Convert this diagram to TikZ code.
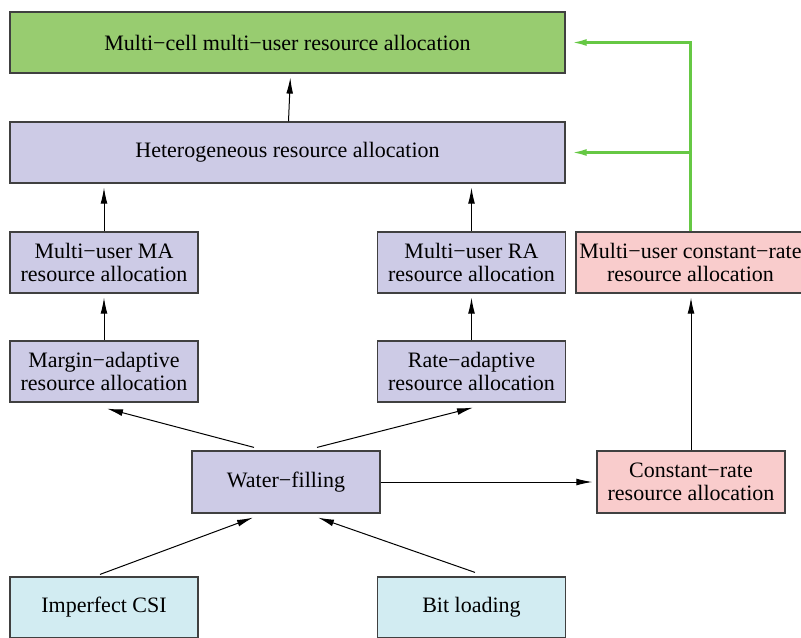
\documentclass[tikz,border=0pt]{standalone}
\usepackage{fontspec}
\setmainfont{Liberation Serif}
\usetikzlibrary{arrows.meta}
\definecolor{cellgreen}{RGB}{152,204,112}
\definecolor{lavender}{RGB}{205,203,230}
\definecolor{rosy}{RGB}{249,204,204}
\definecolor{paleblue}{RGB}{210,236,242}
\definecolor{linkgreen}{RGB}{102,200,68}
\tikzset{
  box/.style={draw=black!75, line width=0.6pt, minimum height=30.5pt,
    inner sep=0pt, align=center, font=\fontsize{11}{11.3}\selectfont},
  widebox/.style={box, minimum width=277.5pt},
  smallbox/.style={box, minimum width=94pt},
  arr/.style={-{Latex[length=8pt,width=3.4pt]}, line width=0.5pt},
  greenarr/.style={arr, draw=linkgreen, line width=1.3pt},
}
\begin{document}
\begin{tikzpicture}[x=0.5pt,y=-0.5pt]
      \clip (0,0) rectangle (801,637);
      \useasboundingbox (0,0) rectangle (801,637);
      % boxes
      \node[widebox,fill=cellgreen] (cell) at (287.5,42.5) {Multi−cell multi−user resource allocation};
      \node[widebox,fill=lavender] (het) at (287.5,152.5) {Heterogeneous resource allocation};
      \node[smallbox,fill=lavender] (mma) at (104,262.5) {Multi−user MA\\resource allocation};
      \node[smallbox,fill=lavender] (mra) at (471.5,262.5) {Multi−user RA\\resource allocation};
      \node[box,minimum width=114.5pt,fill=rosy] (mcr) at (690.5,262.5) {Multi−user constant−rate\\resource allocation};
      \node[smallbox,fill=lavender] (mad) at (104,371.5) {Margin−adaptive\\resource allocation};
      \node[smallbox,fill=lavender] (rad) at (471.5,371.5) {Rate−adaptive\\resource allocation};
      \node[smallbox,fill=lavender,minimum height=31pt] (wf) at (286,482) {Water−filling};
      \node[smallbox,fill=rosy,minimum height=31pt] (cr) at (691,482) {Constant−rate\\resource allocation};
      \node[smallbox,fill=paleblue] (csi) at (104,607.5) {Imperfect CSI};
      \node[smallbox,fill=paleblue] (bit) at (471.5,607.5) {Bit loading};
      % arrows
      \draw[arr,shorten >=2pt] ([xshift=0.5pt]het.north) -- ([xshift=1.5pt]cell.south);
      \draw[arr,shorten >=2pt] (mma.north) -- (het.south -| mma.north);
      \draw[arr,shorten >=2pt] (mra.north) -- (het.south -| mra.north);
      \draw[arr,shorten >=2pt] (mad.north) -- (mad.north |- mma.south);
      \draw[arr,shorten >=2pt] (rad.north) -- (rad.north |- mra.south);
      \draw[arr] ([shift={(-32,-3)}]wf.north) -- ([shift={(3,6)}]mad.south);
      \draw[arr] ([shift={(31,-3)}]wf.north) -- ([shift={(1.5,5)}]rad.south);
      \draw[arr,shorten >=2pt] (wf.east) -- (cr.west);
      \draw[arr,shorten >=2pt] (cr.north) -- (cr.north |- mcr.south);
      \draw[arr] ([shift={(-4,-2)}]csi.north) -- ([shift={(-33,4)}]wf.south);
      \draw[arr] ([shift={(3.5,-4)}]bit.north) -- ([shift={(32,4)}]wf.south);
      % green links
      \coordinate (up) at (mcr.north |- cell.east);
      \coordinate (mid) at (mcr.north |- het.east);
      \draw[greenarr,shorten >=2.5pt] (mcr.north) -- (up) -- (cell.east);
      \draw[greenarr,shorten >=2.5pt] (mid) -- (het.east);
\end{tikzpicture}
\end{document}
